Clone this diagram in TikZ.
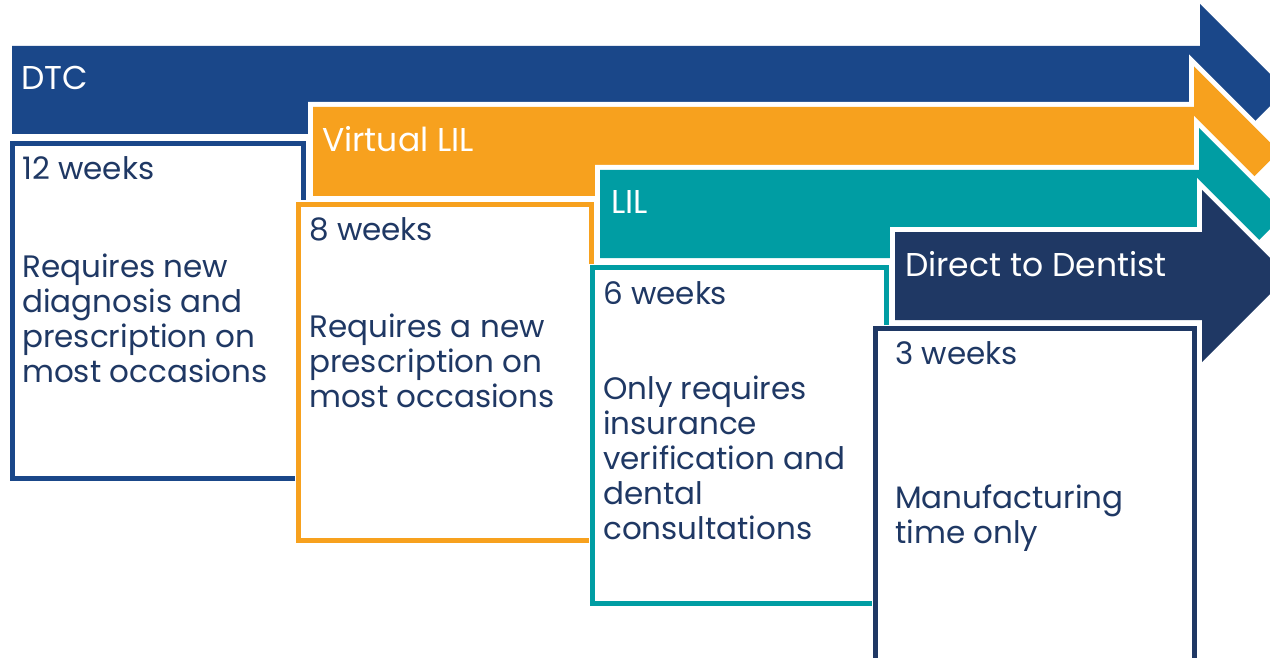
\documentclass[tikz,border=0pt]{standalone}
\usepackage{fontspec}
\setmainfont{Poppins}
\definecolor{dtcblue}{HTML}{1A4789}
\definecolor{liporange}{HTML}{F7A11E}
\definecolor{lilteal}{HTML}{009DA3}
\definecolor{dentnavy}{HTML}{1F3864}
\begin{document}
\begin{tikzpicture}[x=1bp,y=-1bp,
  arrowshape/.style={fill=#1,preaction={draw=white,line width=10bp,line join=miter,miter limit=10}},
  boxshape/.style={draw=#1,fill=white,line width=5bp,preaction={draw=white,line width=8bp}},
  arrowlabel/.style={anchor=base west,inner sep=0pt,text=white,font=\fontsize{33bp}{35bp}\selectfont},
  boxtext/.style={anchor=base west,inner sep=0pt,text=dentnavy,align=left,font=\fontsize{31bp}{35bp}\selectfont}]
\useasboundingbox (0,0) rectangle (1270,658);
\clip (0,0) rectangle (1270,658);
\fill[white] (0,0) rectangle (1270,658);
% arrows
\path[arrowshape=dtcblue] (12,46) -- (1200,46) -- (1200,4) -- (1286,90) -- (1200,176) -- (1200,134) -- (12,134) -- cycle;
\path[arrowshape=liporange] (313,107) -- (1194,107) -- (1194,66.5) -- (1279,151.5) -- (1194,236.5) -- (1194,196) -- (313,196) -- cycle;
\path[arrowshape=lilteal] (600,170) -- (1199,170) -- (1199,128) -- (1285,214) -- (1199,300) -- (1199,258) -- (600,258) -- cycle;
\path[arrowshape=dentnavy] (895,232) -- (1202,232) -- (1202,190) -- (1288,276) -- (1202,362) -- (1202,320) -- (895,320) -- cycle;
\node[arrowlabel] (dtc) at (21,90) {DTC};
\node[arrowlabel] (vlil) at (322,152) {Virtual LIL};
\node[arrowlabel] (lil) at (611,214) {LIL};
\node[arrowlabel] (dtd) at (905,276) {Direct to Dentist};
% boxes
\path[boxshape=dtcblue] (12.5,143.5) rectangle (303.5,478.5);
\node[boxtext] (dtcweeks) at (22,180) {12 weeks};
\node[boxtext] (dtcnote) at (22,382) {Requires new\\diagnosis and\\prescription on\\most occasions};
\path[boxshape=liporange] (298.5,204.5) rectangle (591.5,540.5);
\node[boxtext] (vlilweeks) at (309,241) {8 weeks};
\node[boxtext] (vlilnote) at (309,407) {Requires a new\\prescription on\\most occasions};
\path[boxshape=lilteal] (592.5,267.5) rectangle (886.5,603.5);
\node[boxtext] (lilweeks) at (603,304) {6 weeks};
\node[boxtext] (lilnote) at (603,539) {Only requires\\insurance\\verification and\\dental\\consultations};
\path[boxshape=dentnavy] (875.5,328.5) rectangle (1194.5,660);
\node[boxtext] (dtdweeks) at (895,364) {3 weeks};
\node[boxtext] (dtdnote) at (895,543) {Manufacturing\\time only};
\end{tikzpicture}
\end{document}
